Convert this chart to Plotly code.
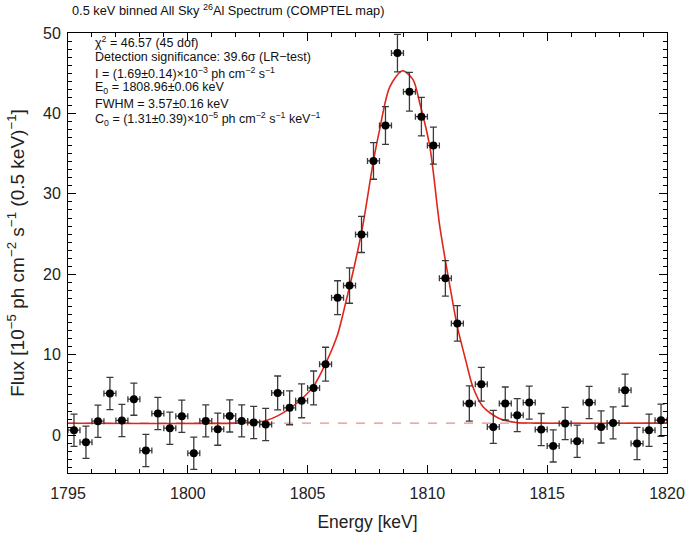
import plotly.graph_objects as go

# ---- data ----
energy = [1795.25, 1795.75, 1796.25, 1796.75, 1797.25, 1797.75, 1798.25, 1798.75, 1799.25, 1799.75,
          1800.25, 1800.75, 1801.25, 1801.75, 1802.25, 1802.75, 1803.25, 1803.75, 1804.25, 1804.75,
          1805.25, 1805.75, 1806.25, 1806.75, 1807.25, 1807.75, 1808.25, 1808.75, 1809.25, 1809.75,
          1810.25, 1810.75, 1811.25, 1811.75, 1812.25, 1812.75, 1813.25, 1813.75, 1814.25, 1814.75,
          1815.25, 1815.75, 1816.25, 1816.75, 1817.25, 1817.75, 1818.25, 1818.75, 1819.25, 1819.75]
flux = [0.62, -0.87, 1.74, 5.19, 1.83, 4.48, -1.91, 2.69, 0.87, 2.36,
        -2.24, 1.78, 0.75, 2.40, 1.78, 1.58, 1.33, 5.26, 3.40, 4.27,
        5.88, 8.83, 17.1, 18.6, 24.96, 34.1, 38.5, 47.5, 42.7, 39.6,
        36.0, 19.5, 13.9, 3.94, 6.34, 1.03, 3.94, 2.49, 4.06, 0.70,
        -1.33, 1.45, -0.75, 4.06, 1.03, 1.53, 5.6, -1.04, 0.62, 1.87]
flux_err = [2.0, 2.0, 2.0, 2.0, 2.0, 2.0, 2.0, 2.0, 2.0, 2.0,
            2.0, 2.0, 2.0, 2.0, 2.0, 2.0, 2.0, 2.1, 2.1, 2.1,
            2.1, 2.1, 2.1, 2.2, 2.25, 2.28, 2.34, 2.34, 2.4, 2.4,
            2.3, 2.2, 2.2, 2.2, 2.1, 2.05, 2.05, 2.05, 2.05, 2.0,
            2.0, 2.0, 2.0, 2.0, 2.0, 2.0, 2.0, 2.0, 2.0, 2.0]
bin_half_width = [0.25] * 50

model_energy = [1795.0, 1802.0, 1802.75, 1803.25, 1803.75, 1804.25, 1804.75, 1805.25, 1805.75,
                1806.25, 1806.6, 1806.95, 1807.3, 1807.73, 1808.0, 1808.43, 1808.96, 1809.4,
                1809.68, 1810.1, 1810.52, 1811.0, 1811.25, 1811.6, 1811.9, 1812.33, 1813.0,
                1813.7, 1814.5, 1820.0]
model_flux = [1.48, 1.5, 1.6, 1.8, 2.4, 3.3, 4.5, 6.1, 8.9,
              12.5, 16.6, 21.0, 26.0, 33.8, 37.9, 43.3, 45.3, 44.2,
              41.3, 35.9, 25.9, 17.5, 13.5, 9.3, 6.0, 3.5, 2.07,
              1.58, 1.5, 1.5]
continuum_energy = [1795.0, 1820.0]
continuum_flux = [1.5, 1.5]

title_text = "0.5 keV binned All Sky <sup>26</sup>Al Spectrum (COMPTEL map)"
stats_lines = [
    "χ<sup>2</sup> = 46.57 (45 dof)",
    "Detection significance: 39.6σ (LR−test)",
    "I = (1.69±0.14)×10<sup>−3</sup> ph cm<sup>−2</sup> s<sup>−1</sup>",
    "E<sub>0</sub> = 1808.96±0.06 keV",
    "FWHM = 3.57±0.16 keV",
    "C<sub>0</sub> = (1.31±0.39)×10<sup>−5</sup> ph cm<sup>−2</sup> s<sup>−1</sup> keV<sup>−1</sup>",
]

FONT = "Liberation Sans, Arial, Helvetica, sans-serif"
W, H = 685, 537
ML, MR, MT, MB = 68, 18, 33, 64
PH = H - MT - MB

fig = go.Figure()
fig.add_trace(go.Scatter(x=continuum_energy, y=continuum_flux, mode="lines",
                         line=dict(color="#e8908a", width=1.2, dash="dash"),
                         hoverinfo="skip", showlegend=False))
fig.add_trace(go.Scatter(x=model_energy, y=model_flux, mode="lines",
                         line=dict(color="#e0261b", width=1.6, shape="spline", smoothing=0.8),
                         showlegend=False))
fig.add_trace(go.Scatter(
    x=energy, y=flux, mode="markers",
    marker=dict(color="black", size=8),
    error_y=dict(type="data", array=flux_err, color="#3a3a3a", thickness=1.3, width=3.5),
    error_x=dict(type="data", array=bin_half_width, color="#3a3a3a", thickness=1.3, width=3),
    showlegend=False))

axis_common = dict(
    showline=True, linecolor="black", linewidth=1, mirror="allticks",
    ticks="inside", ticklen=8, tickwidth=1, tickcolor="black",
    showgrid=False, zeroline=False, automargin=False,
    tickfont=dict(family=FONT, size=16, color="#222"),
)

fig.update_xaxes(range=[1795, 1820], dtick=5, tick0=1795, ticklabelstandoff=6,
                 minor=dict(dtick=1, ticks="inside", ticklen=4, tickcolor="black"),
                 title=dict(text="Energy [keV]", font=dict(family=FONT, size=17.5, color="#222"), standoff=14),
                 **axis_common)
fig.update_yaxes(range=[-4.7, 50], dtick=10, tick0=0, ticklabelstandoff=3,
                 minor=dict(dtick=1, ticks="inside", ticklen=4, tickcolor="black"),
                 title=dict(text="Flux [10<sup>−5</sup> ph cm<sup>−2</sup> s<sup>−1</sup> (0.5 keV)<sup>−1</sup>]",
                            font=dict(family=FONT, size=19, color="#222"), standoff=13),
                 **axis_common)

line_px = [42, 57.4, 72.8, 88.2, 103.6, 119]
for txt, ypx in zip(stats_lines, line_px):
    fig.add_annotation(text=txt, xref="paper", yref="paper",
                       x=(92.5 - ML) / (W - ML - MR), y=1 - (ypx - MT) / PH,
                       xanchor="left", yanchor="middle", align="left",
                       showarrow=False, font=dict(family=FONT, size=12.5, color="#111"))

fig.update_layout(
    width=W, height=H,
    margin=dict(l=ML, r=MR, t=MT, b=MB),
    paper_bgcolor="white", plot_bgcolor="white",
    title=dict(text=title_text, x=72 / W, xanchor="left", xref="container",
               y=1 - 11 / H, yanchor="middle", yref="container",
               font=dict(family=FONT, size=12.8, color="#111")),
)

fig.write_html("out.html", config={"displayModeBar": False},
               post_script="document.body.style.margin='0px';")
